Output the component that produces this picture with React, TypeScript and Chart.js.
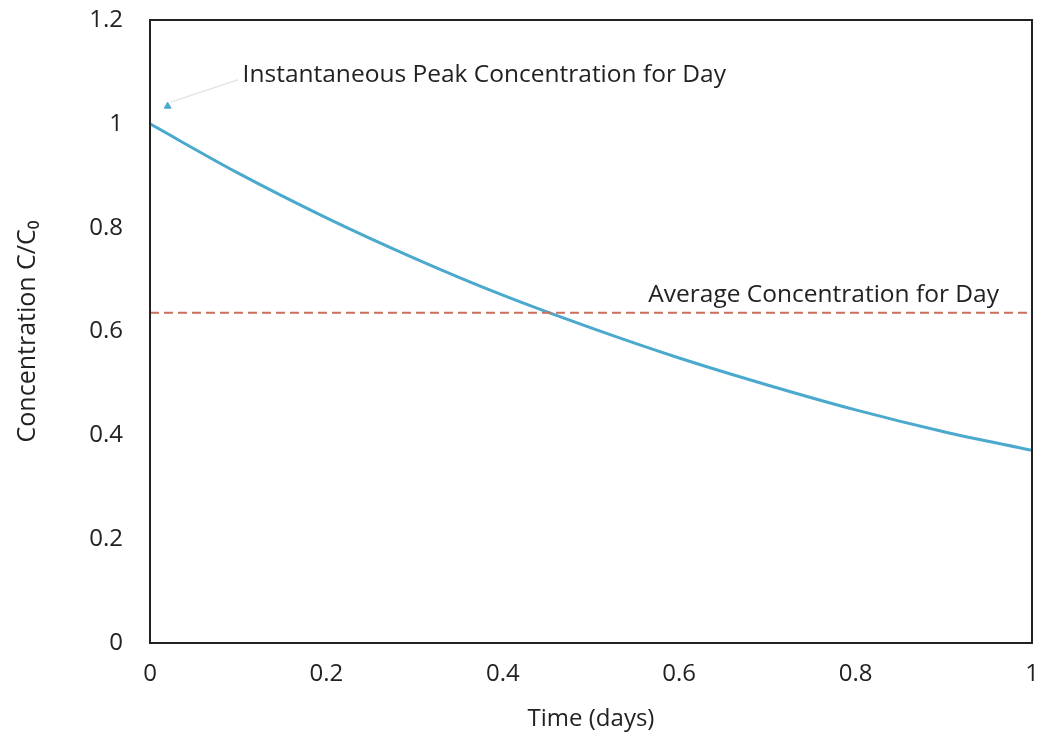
import React, { useEffect, useRef } from "react";
import { Chart, registerables } from "chart.js";

Chart.register(...registerables);

const timeDays = [0, 0.1, 0.2, 0.3, 0.4, 0.5, 0.6, 0.7, 0.8, 0.9, 1.0];
const concentration = [1.0, 0.905, 0.819, 0.741, 0.67, 0.607, 0.549, 0.497, 0.449, 0.407, 0.371];
const averageX = [0, 1];
const averageY = [0.636, 0.636];
const peakPoint = { x: 0.02, y: 1.034 };
const pointerLine = [{ x: 0.024, y: 1.042 }, { x: 0.1, y: 1.085 }];
const peakLabel = "Instantaneous Peak Concentration for Day";
const peakLabelPos = { x: 0.105, y: 1.094 };
const avgLabel = "Average Concentration for Day";
const avgLabelPos = { x: 0.565, y: 0.67 };
const xTicks = [0, 0.2, 0.4, 0.6, 0.8, 1];
const yTicks = [0, 0.2, 0.4, 0.6, 0.8, 1, 1.2];

const FONT = "'Open Sans', 'Liberation Sans', sans-serif";

const framePlugin = {
  id: "frame",
  afterDatasetsDraw(chart: any) {
    const { ctx, chartArea, scales } = chart;
    ctx.save();
    ctx.strokeStyle = "#222";
    ctx.lineWidth = 2;
    ctx.strokeRect(chartArea.left, chartArea.top, chartArea.right - chartArea.left, chartArea.bottom - chartArea.top);
    ctx.fillStyle = "#222";
    ctx.font = `24.5px ${FONT}`;
    ctx.textBaseline = "middle";
    ctx.textAlign = "left";
    ctx.fillText(peakLabel, scales.x.getPixelForValue(peakLabelPos.x), scales.y.getPixelForValue(peakLabelPos.y));
    ctx.fillText(avgLabel, scales.x.getPixelForValue(avgLabelPos.x), scales.y.getPixelForValue(avgLabelPos.y));
    ctx.restore();
  },
};

export default function App() {
  const ref = useRef<HTMLCanvasElement>(null);
  useEffect(() => {
    if (!ref.current) return;
    const chart = new Chart(ref.current, {
      type: "scatter",
      data: {
        datasets: [
          {
            data: pointerLine,
            showLine: true,
            borderColor: "#e3e8ec",
            borderWidth: 1.5,
            pointRadius: 0,
          },
          {
            data: averageX.map((x, i) => ({ x, y: averageY[i] })),
            showLine: true,
            borderColor: "#c9705c",
            borderWidth: 2,
            borderDash: [9, 5],
            pointRadius: 0,
          },
          {
            data: timeDays.map((x, i) => ({ x, y: concentration[i] })),
            showLine: true,
            borderColor: "#4aa9cc",
            borderWidth: 3,
            pointRadius: 0,
            cubicInterpolationMode: "monotone",
          },
          {
            data: [peakPoint],
            pointStyle: "triangle",
            pointRadius: 4,
            backgroundColor: "#4aa9cc",
            borderColor: "#4aa9cc",
          },
        ],
      },
      options: {
        animation: false,
        responsive: true,
        maintainAspectRatio: false,
        layout: { padding: { left: 0, right: 10, top: 20, bottom: 0 } },
        plugins: { legend: { display: false }, tooltip: { enabled: false } },
        scales: {
          x: {
            type: "linear",
            min: 0,
            max: 1,
            afterBuildTicks: (s: any) => {
              s.ticks = xTicks.map((v) => ({ value: v }));
            },
            afterFit: (s: any) => {
              s.height = 93;
              s.paddingLeft = 0;
              s.paddingRight = 0;
            },
            grid: { display: false, drawTicks: false },
            border: { display: false },
            ticks: {
              color: "#222",
              font: { family: FONT, size: 24 },
              padding: 17,
              callback: (v: any) => String(v),
            },
            title: {
              display: true,
              text: "Time (days)",
              color: "#222",
              font: { family: FONT, size: 24 },
              padding: { top: 0, bottom: 2 },
            },
          },
          y: {
            type: "linear",
            min: 0,
            max: 1.2,
            afterBuildTicks: (s: any) => {
              s.ticks = yTicks.map((v) => ({ value: v }));
            },
            afterFit: (s: any) => {
              s.width = 150;
              s.paddingTop = 0;
              s.paddingBottom = 0;
            },
            grid: { display: false, drawTicks: false },
            border: { display: false },
            ticks: {
              color: "#222",
              font: { family: FONT, size: 24 },
              padding: 27,
              callback: (v: any) => String(v),
            },
            title: {
              display: true,
              text: "Concentration C/C₀",
              color: "#222",
              font: { family: FONT, size: 25 },
              padding: { top: 13, bottom: 0 },
            },
          },
        },
      },
      plugins: [framePlugin],
    });
    return () => chart.destroy();
  }, []);
  return (
    <div style={{ position: "fixed", left: 0, top: 0, width: 1042, height: 736, background: "#fff" }}>
      <canvas ref={ref} />
    </div>
  );
}
